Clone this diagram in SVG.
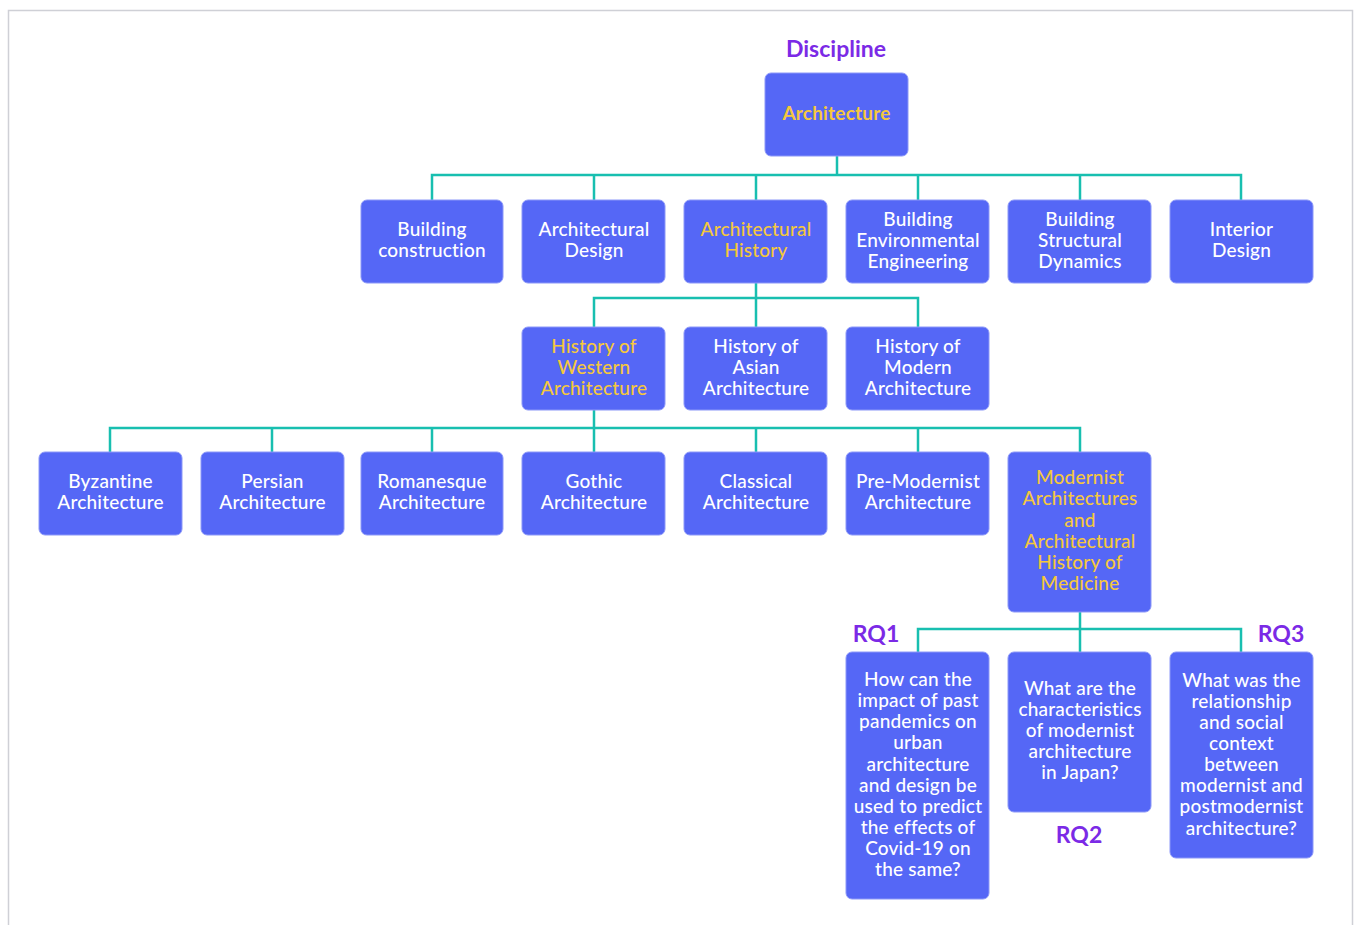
<svg xmlns="http://www.w3.org/2000/svg" width="1356" height="925" viewBox="0 0 1356 925">
<style>
.frame{fill:#fff;stroke:#cfd0d6;stroke-width:1.5}
.box{fill:#5567f6;stroke:#8c98f8;stroke-width:1}
.t{font-family:Lato,"Noto Sans",sans-serif;font-size:19px;letter-spacing:0.2px;fill:#fff;text-anchor:middle;font-weight:500}
.y{fill:#f5c83c}
.b{font-weight:700}
.lbl{font-family:Lato,"Noto Sans",sans-serif;font-size:23px;font-weight:700;fill:#7b2ae6;text-anchor:middle}
.c{fill:none;stroke:#18bfb0;stroke-width:2.5}
</style>
<rect x="0" y="0" width="1356" height="925" fill="#fff"/>
<rect class="frame" x="8.5" y="10.5" width="1344" height="930"/>
<g id="connectors">
<path class="c" d="M837 156V175M432 200V175H1241V200M594 175V200M756 175V200M918 175V200M1080 175V200"/>
<path class="c" d="M756 283V327M594 327V298H918V327"/>
<path class="c" d="M594 410V452M110 452V428H1080V452M272 428V452M432 428V452M756 428V452M918 428V452"/>
<path class="c" d="M1080 612V652M918 652V629H1241V652"/>
</g>
<g id="labels">
<text class="lbl" x="836" y="57">Discipline</text>
<text class="lbl" x="876" y="642">RQ1</text>
<text class="lbl" x="1079" y="843">RQ2</text>
<text class="lbl" x="1281" y="642">RQ3</text>
</g>
<g id="n-architecture"><rect class="box" x="765" y="73" width="143" height="83" rx="6"/><text class="t y b" x="836.5" y="120">Architecture</text></g>
<g id="n-building-construction"><rect class="box" x="361" y="200" width="142" height="83" rx="6"/><text class="t" x="432" y="236">Building</text><text class="t" x="432" y="257">construction</text></g>
<g id="n-architectural-design"><rect class="box" x="522" y="200" width="143" height="83" rx="6"/><text class="t" x="594" y="236">Architectural</text><text class="t" x="594" y="257">Design</text></g>
<g id="n-architectural-history"><rect class="box" x="684" y="200" width="143" height="83" rx="6"/><text class="t y" x="756" y="236">Architectural</text><text class="t y" x="756" y="257">History</text></g>
<g id="n-building-environmental"><rect class="box" x="846" y="200" width="143" height="83" rx="6"/><text class="t" x="918" y="226">Building</text><text class="t" x="918" y="247">Environmental</text><text class="t" x="918" y="268">Engineering</text></g>
<g id="n-building-structural"><rect class="box" x="1008" y="200" width="143" height="83" rx="6"/><text class="t" x="1080" y="226">Building</text><text class="t" x="1080" y="247">Structural</text><text class="t" x="1080" y="268">Dynamics</text></g>
<g id="n-interior-design"><rect class="box" x="1170" y="200" width="143" height="83" rx="6"/><text class="t" x="1241.5" y="236">Interior</text><text class="t" x="1241.5" y="257">Design</text></g>
<g id="n-history-western"><rect class="box" x="522" y="327" width="143" height="83" rx="6"/><text class="t y" x="594" y="353">History of</text><text class="t y" x="594" y="374">Western</text><text class="t y" x="594" y="395">Architecture</text></g>
<g id="n-history-asian"><rect class="box" x="684" y="327" width="143" height="83" rx="6"/><text class="t" x="756" y="353">History of</text><text class="t" x="756" y="374">Asian</text><text class="t" x="756" y="395">Architecture</text></g>
<g id="n-history-modern"><rect class="box" x="846" y="327" width="143" height="83" rx="6"/><text class="t" x="918" y="353">History of</text><text class="t" x="918" y="374">Modern</text><text class="t" x="918" y="395">Architecture</text></g>
<g id="n-byzantine"><rect class="box" x="39" y="452" width="143" height="83" rx="6"/><text class="t" x="110.5" y="488">Byzantine</text><text class="t" x="110.5" y="509">Architecture</text></g>
<g id="n-persian"><rect class="box" x="201" y="452" width="143" height="83" rx="6"/><text class="t" x="272.5" y="488">Persian</text><text class="t" x="272.5" y="509">Architecture</text></g>
<g id="n-romanesque"><rect class="box" x="361" y="452" width="142" height="83" rx="6"/><text class="t" x="432" y="488">Romanesque</text><text class="t" x="432" y="509">Architecture</text></g>
<g id="n-gothic"><rect class="box" x="522" y="452" width="143" height="83" rx="6"/><text class="t" x="594" y="488">Gothic</text><text class="t" x="594" y="509">Architecture</text></g>
<g id="n-classical"><rect class="box" x="684" y="452" width="143" height="83" rx="6"/><text class="t" x="756" y="488">Classical</text><text class="t" x="756" y="509">Architecture</text></g>
<g id="n-pre-modernist"><rect class="box" x="846" y="452" width="143" height="83" rx="6"/><text class="t" x="918" y="488">Pre-Modernist</text><text class="t" x="918" y="509">Architecture</text></g>
<g id="n-modernist"><rect class="box" x="1008" y="452" width="143" height="160" rx="6"/><text class="t y" x="1080" y="484">Modernist</text><text class="t y" x="1080" y="505">Architectures</text><text class="t y" x="1080" y="527">and</text><text class="t y" x="1080" y="548">Architectural</text><text class="t y" x="1080" y="569">History of</text><text class="t y" x="1080" y="590">Medicine</text></g>
<g id="n-rq1"><rect class="box" x="846" y="652" width="143" height="247" rx="6"/>
<text class="t" x="918" y="686">How can the</text><text class="t" x="918" y="707">impact of past</text><text class="t" x="918" y="728">pandemics on</text><text class="t" x="918" y="749">urban</text><text class="t" x="918" y="771">architecture</text><text class="t" x="918" y="792">and design be</text><text class="t" x="918" y="813">used to predict</text><text class="t" x="918" y="834">the effects of</text><text class="t" x="918" y="855">Covid-19 on</text><text class="t" x="918" y="876">the same?</text></g>
<g id="n-rq2"><rect class="box" x="1008" y="652" width="143" height="160" rx="6"/>
<text class="t" x="1080" y="695">What are the</text><text class="t" x="1080" y="716">characteristics</text><text class="t" x="1080" y="737">of modernist</text><text class="t" x="1080" y="758">architecture</text><text class="t" x="1080" y="779">in Japan?</text></g>
<g id="n-rq3"><rect class="box" x="1170" y="652" width="143" height="206" rx="6"/>
<text class="t" x="1241.5" y="687">What was the</text><text class="t" x="1241.5" y="708">relationship</text><text class="t" x="1241.5" y="729">and social</text><text class="t" x="1241.5" y="750">context</text><text class="t" x="1241.5" y="771">between</text><text class="t" x="1241.5" y="792">modernist and</text><text class="t" x="1241.5" y="813">postmodernist</text><text class="t" x="1241.5" y="835">architecture?</text></g>
</svg>
